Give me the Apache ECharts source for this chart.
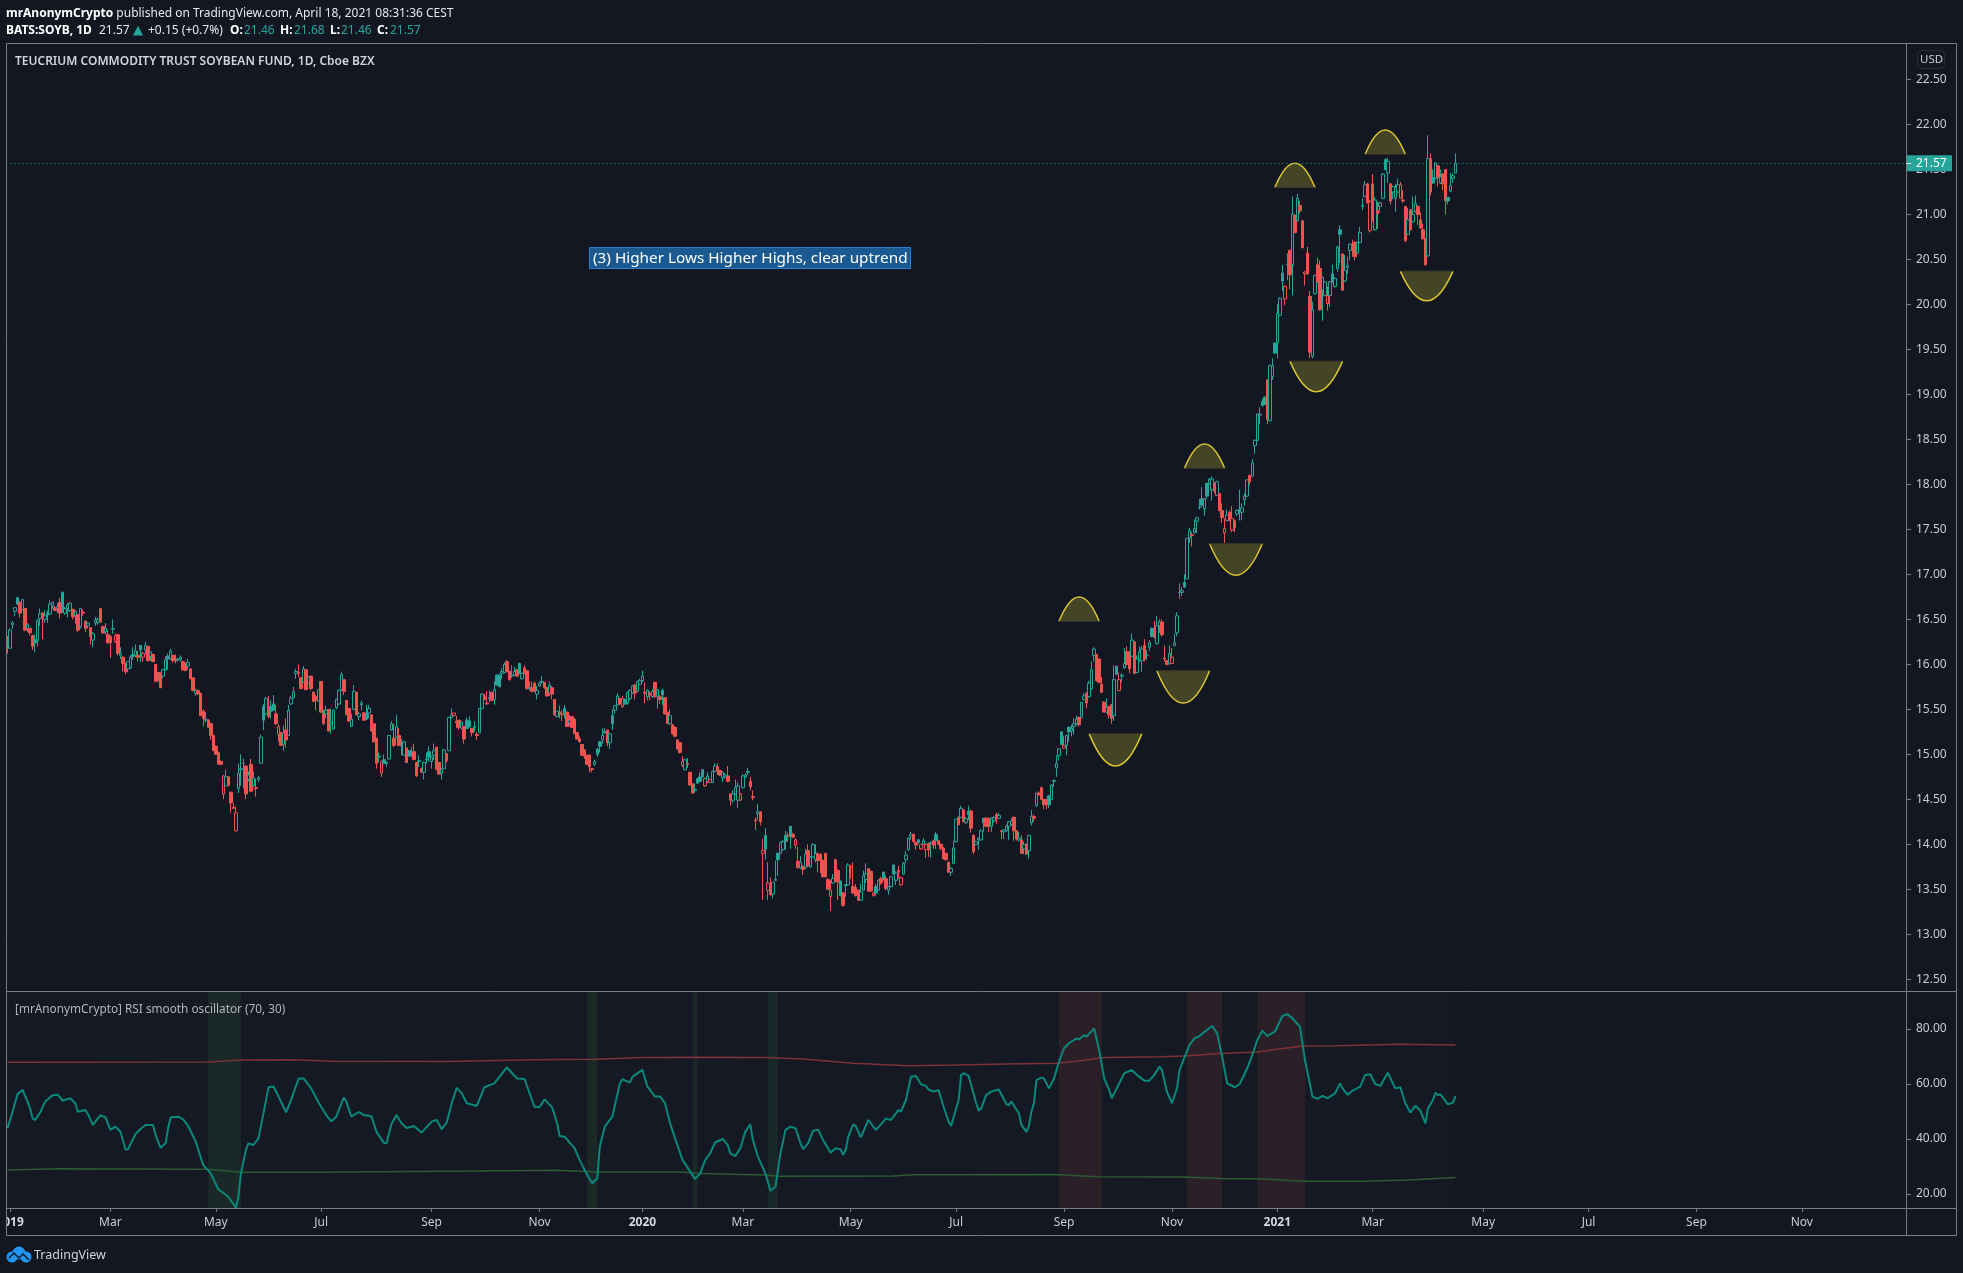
<!DOCTYPE html>
<html><head><meta charset="utf-8">
<style>html,body{margin:0;padding:0;background:#131722}#c{width:1963px;height:1273px}</style>
<script src="https://cdn.jsdelivr.net/npm/echarts@6/dist/echarts.min.js"></script>
</head><body><div id="c"></div>
<script>
// open, high, low, close (US cents), close-vs-previous-close colour flag (1 green, 0 red)
const bars=[[1631,1631,1612,1618,0],[1618,1640,1618,1638,1],[1644,1648,1639,1646,1],[1659,1663,1654,1663,1],[1674,1675,1666,1667,1],[1669,1670,1652,1657,0],[1661,1672,1660,1672,1],[1662,1662,1637,1638,0],[1640,1646,1636,1644,1],[1640,1640,1632,1635,0],
[1632,1633,1616,1620,0],[1627,1633,1613,1624,1],[1627,1650,1620,1649,1],[1651,1662,1643,1656,1],[1657,1658,1628,1652,0],[1650,1660,1646,1654,1],[1657,1660,1646,1655,1],[1656,1671,1655,1667,1],[1665,1669,1662,1669,1],[1663,1665,1659,1660,0],
[1662,1668,1657,1664,1],[1669,1674,1651,1657,0],[1680,1681,1658,1658,1],[1657,1664,1655,1662,1],[1662,1668,1652,1666,1],[1660,1669,1658,1668,1],[1661,1662,1650,1653,0],[1654,1660,1645,1659,1],[1655,1656,1636,1638,0],[1642,1662,1640,1662,1],
[1658,1661,1654,1657,0],[1648,1649,1636,1640,0],[1643,1647,1640,1646,1],[1641,1641,1622,1631,0],[1627,1636,1619,1634,1],[1646,1653,1643,1649,1],[1647,1652,1644,1650,1],[1662,1662,1647,1647,0],[1642,1643,1634,1635,0],[1636,1646,1633,1640,1],
[1633,1638,1623,1624,0],[1631,1632,1607,1624,0],[1639,1650,1634,1640,1],[1625,1634,1624,1632,0],[1633,1633,1610,1612,0],[1610,1619,1606,1612,1],[1608,1609,1592,1601,0],[1601,1602,1589,1592,0],[1595,1603,1591,1603,1],[1596,1610,1595,1608,1],
[1611,1619,1605,1609,1],[1610,1622,1608,1615,1],[1610,1615,1603,1608,0],[1621,1621,1603,1616,1],[1608,1614,1603,1612,0],[1616,1625,1611,1621,1],[1620,1620,1604,1604,0],[1609,1614,1604,1614,1],[1611,1612,1603,1603,0],[1600,1600,1581,1581,0],
[1591,1591,1580,1582,0],[1590,1591,1574,1574,0],[1587,1595,1585,1594,1],[1594,1609,1593,1605,1],[1609,1612,1594,1606,1],[1606,1617,1605,1615,1],[1610,1610,1602,1604,0],[1606,1611,1601,1604,0],[1605,1607,1603,1606,1],[1605,1610,1603,1608,1],
[1603,1604,1593,1594,0],[1601,1602,1593,1593,0],[1598,1606,1594,1602,1],[1595,1595,1584,1584,0],[1585,1585,1570,1571,0],[1568,1573,1565,1571,1],[1571,1572,1566,1567,0],[1568,1568,1543,1543,0],[1548,1550,1531,1540,0],[1538,1547,1535,1539,1],
[1538,1539,1530,1530,0],[1534,1535,1516,1521,0],[1521,1522,1504,1504,0],[1509,1510,1500,1500,0],[1502,1503,1489,1489,0],[1492,1493,1488,1489,0],[1456,1477,1450,1476,0],[1465,1483,1465,1475,1],[1475,1476,1464,1466,0],[1458,1458,1435,1446,0],
[1441,1446,1440,1440,0],[1415,1442,1414,1435,0],[1462,1490,1457,1479,1],[1483,1500,1465,1484,1],[1490,1495,1462,1490,1],[1487,1488,1450,1456,0],[1472,1481,1470,1477,1],[1489,1495,1458,1459,0],[1465,1481,1464,1474,1],[1463,1473,1453,1462,0],
[1472,1476,1469,1474,1],[1490,1522,1490,1519,1],[1553,1556,1527,1538,1],[1545,1564,1544,1562,1],[1550,1565,1540,1542,0],[1553,1560,1540,1548,1],[1556,1566,1549,1549,1],[1545,1555,1533,1534,0],[1522,1533,1514,1531,0],[1524,1525,1510,1510,0],
[1511,1532,1504,1524,1],[1527,1540,1507,1516,0],[1521,1555,1521,1549,1],[1556,1565,1555,1562,1],[1563,1575,1562,1570,1],[1590,1595,1584,1592,1],[1591,1600,1586,1590,0],[1585,1586,1573,1573,0],[1580,1598,1580,1595,1],[1594,1594,1571,1572,0],
[1579,1587,1578,1586,1],[1587,1587,1571,1573,0],[1569,1570,1558,1559,0],[1564,1566,1549,1560,0],[1559,1572,1559,1572,1],[1581,1581,1546,1547,0],[1549,1549,1533,1534,0],[1545,1554,1540,1549,1],[1550,1550,1525,1526,0],[1534,1551,1523,1536,1],
[1528,1550,1528,1549,1],[1552,1562,1550,1561,1],[1556,1572,1555,1571,1],[1572,1592,1571,1589,1],[1583,1583,1566,1570,0],[1560,1560,1544,1544,0],[1551,1551,1536,1537,0],[1531,1545,1531,1539,1],[1550,1577,1550,1570,1],[1569,1569,1544,1544,0],
[1542,1547,1538,1545,1],[1555,1560,1549,1557,1],[1546,1547,1537,1538,0],[1546,1555,1538,1539,1],[1546,1555,1540,1551,1],[1544,1544,1525,1526,0],[1534,1534,1513,1514,0],[1518,1518,1484,1490,0],[1497,1502,1491,1498,1],[1479,1493,1475,1492,0],
[1494,1500,1489,1490,1],[1491,1492,1486,1490,1],[1495,1521,1494,1521,1],[1527,1537,1526,1534,1],[1518,1534,1508,1510,0],[1519,1544,1518,1531,1],[1521,1529,1509,1510,0],[1509,1517,1499,1510,1],[1499,1515,1499,1514,1],[1507,1507,1491,1491,0],
[1504,1505,1498,1498,1],[1503,1508,1497,1499,1],[1503,1512,1494,1494,0],[1491,1491,1475,1476,0],[1492,1499,1486,1493,1],[1484,1485,1480,1480,0],[1480,1492,1472,1491,1],[1494,1502,1490,1495,1],[1503,1509,1492,1497,1],[1492,1498,1484,1497,1],
[1499,1512,1494,1504,1],[1508,1508,1483,1483,0],[1491,1491,1478,1478,0],[1479,1485,1472,1483,1],[1484,1506,1484,1505,1],[1501,1501,1491,1493,0],[1504,1541,1504,1541,1],[1541,1551,1540,1544,1],[1543,1546,1542,1546,0],[1537,1543,1529,1535,0],
[1538,1538,1527,1530,0],[1529,1537,1528,1536,1],[1531,1531,1512,1517,0],[1538,1541,1528,1529,1],[1537,1542,1530,1531,1],[1529,1529,1520,1524,0],[1530,1537,1525,1531,1],[1522,1525,1516,1521,0],[1524,1551,1524,1551,1],[1551,1568,1550,1567,1],
[1564,1567,1560,1561,0],[1557,1570,1555,1556,0],[1562,1571,1558,1563,1],[1569,1569,1559,1560,0],[1561,1581,1555,1572,1],[1588,1589,1576,1577,1],[1588,1590,1575,1575,1],[1590,1596,1584,1592,1],[1591,1602,1590,1600,1],[1603,1605,1591,1592,0],
[1592,1593,1582,1583,0],[1587,1599,1585,1588,1],[1588,1597,1587,1592,1],[1594,1595,1586,1587,0],[1601,1602,1589,1590,1],[1584,1591,1583,1590,1],[1596,1599,1589,1590,0],[1593,1593,1572,1573,0],[1573,1581,1571,1574,1],[1574,1581,1569,1570,0],
[1579,1581,1570,1570,0],[1567,1576,1561,1571,1],[1576,1581,1575,1579,1],[1580,1587,1579,1581,1],[1580,1580,1573,1574,0],[1574,1575,1564,1565,0],[1568,1581,1565,1577,1],[1574,1576,1561,1567,0],[1561,1561,1543,1544,0],[1542,1548,1541,1548,1],
[1547,1554,1540,1546,0],[1545,1549,1537,1544,0],[1551,1555,1540,1546,1],[1547,1547,1531,1531,0],[1535,1544,1531,1538,1],[1542,1542,1530,1530,0],[1539,1540,1523,1523,0],[1524,1525,1516,1517,0],[1517,1520,1513,1514,0],[1511,1511,1499,1499,0],
[1505,1505,1495,1498,0],[1499,1499,1488,1489,0],[1499,1500,1480,1486,0],[1484,1485,1480,1483,0],[1489,1494,1487,1492,1],[1506,1507,1497,1500,1],[1514,1515,1502,1509,1],[1516,1529,1512,1521,1],[1525,1529,1523,1524,1],[1527,1527,1509,1513,0],
[1513,1523,1506,1523,1],[1543,1550,1527,1534,1],[1549,1555,1545,1554,1],[1555,1568,1554,1565,1],[1562,1563,1555,1556,0],[1553,1565,1552,1562,0],[1561,1562,1555,1556,1],[1557,1569,1555,1569,1],[1562,1572,1560,1571,1],[1568,1577,1567,1576,1],
[1577,1578,1561,1568,0],[1570,1582,1569,1581,1],[1578,1584,1577,1582,1],[1582,1593,1580,1587,1],[1569,1580,1557,1568,0],[1564,1572,1560,1571,1],[1568,1570,1560,1566,0],[1564,1572,1563,1570,1],[1580,1580,1563,1564,0],[1564,1572,1551,1572,1],
[1564,1566,1556,1561,0],[1571,1573,1555,1566,1],[1563,1563,1544,1545,0],[1547,1547,1534,1534,0],[1534,1550,1533,1543,1],[1533,1533,1522,1523,0],[1530,1531,1520,1520,0],[1516,1516,1505,1506,0],[1513,1513,1501,1502,0],[1488,1498,1486,1492,0],
[1483,1495,1482,1494,1],[1490,1496,1485,1489,0],[1480,1481,1465,1466,0],[1467,1468,1456,1457,0],[1460,1468,1457,1461,1],[1473,1474,1467,1468,1],[1475,1480,1469,1470,1],[1483,1483,1475,1475,1],[1465,1474,1464,1473,0],[1470,1480,1468,1476,1],
[1469,1473,1468,1472,0],[1469,1482,1468,1481,1],[1481,1490,1480,1487,1],[1486,1490,1477,1481,0],[1482,1483,1476,1477,0],[1474,1481,1469,1480,1],[1475,1479,1473,1477,1],[1476,1487,1469,1470,0],[1456,1457,1443,1449,0],[1449,1460,1446,1456,1],
[1456,1472,1455,1463,1],[1449,1469,1440,1465,1],[1449,1457,1448,1456,0],[1463,1478,1462,1476,1],[1475,1479,1474,1477,1],[1480,1485,1477,1481,1],[1470,1475,1460,1464,0],[1453,1460,1449,1452,0],[1427,1430,1416,1426,0],[1434,1445,1427,1436,1],
[1436,1437,1421,1425,0],[1390,1406,1338,1393,0],[1410,1418,1383,1394,1],[1349,1380,1338,1357,0],[1354,1363,1343,1344,0],[1345,1358,1340,1358,1],[1361,1382,1359,1360,1],[1390,1391,1365,1383,1],[1390,1403,1390,1402,1],[1394,1405,1393,1403,1],
[1410,1415,1394,1403,1],[1410,1413,1403,1409,0],[1420,1420,1395,1409,1],[1411,1413,1407,1408,0],[1399,1407,1395,1405,0],[1381,1397,1373,1374,0],[1374,1387,1373,1380,1],[1375,1377,1366,1372,0],[1374,1395,1373,1389,1],[1393,1400,1375,1376,0],
[1375,1387,1374,1386,1],[1386,1401,1385,1400,1],[1383,1400,1380,1390,1],[1389,1391,1369,1382,0],[1389,1390,1368,1382,0],[1382,1383,1363,1364,0],[1390,1390,1363,1364,0],[1361,1362,1349,1350,0],[1342,1360,1326,1349,0],[1357,1367,1356,1362,1],
[1383,1384,1358,1359,0],[1371,1372,1338,1358,0],[1359,1360,1342,1343,1],[1346,1347,1331,1332,0],[1355,1356,1342,1354,1],[1355,1379,1354,1377,1],[1375,1377,1362,1374,0],[1353,1380,1345,1346,0],[1352,1356,1342,1343,0],[1349,1350,1337,1338,0],
[1338,1356,1337,1347,1],[1349,1371,1348,1365,1],[1361,1379,1357,1367,1],[1373,1373,1347,1348,0],[1370,1371,1348,1348,0],[1343,1347,1342,1346,0],[1353,1356,1343,1346,1],[1349,1361,1348,1360,1],[1362,1364,1355,1357,0],[1369,1370,1360,1362,1],
[1362,1365,1349,1351,0],[1349,1354,1344,1353,1],[1353,1365,1352,1364,1],[1377,1378,1366,1367,1],[1360,1370,1355,1368,1],[1371,1376,1362,1369,0],[1355,1364,1354,1363,0],[1367,1380,1366,1379,1],[1383,1393,1379,1388,1],[1394,1408,1393,1407,1],
[1409,1414,1405,1411,1],[1411,1412,1402,1403,0],[1402,1403,1394,1399,0],[1405,1406,1401,1402,1],[1395,1400,1394,1400,0],[1400,1407,1399,1404,1],[1394,1401,1385,1400,0],[1401,1402,1386,1394,0],[1401,1403,1385,1402,1],[1404,1405,1395,1399,0],
[1411,1414,1395,1404,1],[1404,1405,1400,1400,0],[1400,1401,1394,1395,0],[1396,1397,1383,1384,0],[1390,1390,1382,1383,0],[1380,1381,1368,1369,0],[1369,1375,1365,1373,1],[1379,1404,1378,1396,1],[1403,1428,1402,1428,1],[1430,1431,1421,1422,0],
[1430,1443,1429,1440,1],[1438,1439,1425,1425,0],[1424,1430,1423,1429,1],[1437,1443,1427,1433,1],[1437,1438,1413,1418,0],[1410,1411,1389,1392,0],[1400,1404,1399,1403,1],[1405,1408,1394,1407,1],[1405,1417,1404,1415,1],[1429,1429,1414,1424,1],
[1429,1430,1419,1420,0],[1429,1430,1414,1420,0],[1420,1430,1414,1429,1],[1426,1431,1424,1430,1],[1433,1435,1423,1429,0],[1429,1435,1428,1432,1],[1415,1416,1406,1414,0],[1414,1417,1406,1416,1],[1415,1422,1414,1420,1],[1420,1426,1405,1425,1],
[1422,1429,1421,1426,1],[1430,1431,1404,1415,0],[1415,1416,1404,1406,0],[1405,1414,1403,1407,1],[1405,1410,1389,1390,0],[1395,1403,1389,1400,1],[1400,1401,1389,1389,0],[1393,1410,1384,1410,1],[1424,1438,1421,1431,1],[1431,1433,1425,1429,0],
[1443,1457,1442,1457,1],[1457,1459,1454,1455,0],[1463,1464,1449,1450,0],[1450,1450,1439,1444,0],[1450,1450,1439,1444,0],[1454,1455,1440,1444,1],[1450,1467,1449,1466,1],[1470,1472,1464,1471,1],[1485,1499,1475,1490,1],[1499,1507,1493,1506,1],
[1525,1525,1511,1511,1],[1507,1520,1506,1510,0],[1510,1522,1499,1521,1],[1530,1531,1514,1525,1],[1526,1533,1520,1529,1],[1531,1540,1522,1534,1],[1534,1543,1533,1539,1],[1541,1542,1531,1533,0],[1541,1558,1540,1558,1],[1561,1568,1560,1565,1],
[1568,1569,1551,1557,0],[1564,1582,1563,1579,1],[1573,1603,1572,1594,1],[1610,1619,1603,1617,1],[1611,1611,1581,1582,0],[1606,1606,1579,1580,0],[1578,1586,1568,1569,0],[1558,1559,1547,1547,0],[1547,1562,1546,1552,1],[1553,1554,1540,1544,0],
[1555,1556,1534,1540,0],[1543,1599,1537,1583,1],[1598,1598,1588,1589,1],[1571,1591,1570,1583,0],[1587,1590,1580,1588,1],[1596,1618,1595,1601,1],[1614,1620,1599,1600,0],[1614,1615,1590,1595,0],[1609,1634,1608,1627,1],[1625,1625,1589,1590,0],
[1591,1610,1590,1606,1],[1605,1620,1603,1614,1],[1604,1620,1592,1617,1],[1621,1628,1603,1606,0],[1610,1616,1605,1610,1],[1619,1627,1615,1624,1],[1640,1641,1630,1631,1],[1640,1648,1629,1630,0],[1623,1654,1622,1643,1],[1643,1650,1635,1647,1],
[1647,1650,1631,1633,0],[1607,1621,1603,1606,0],[1604,1605,1599,1600,0],[1601,1621,1600,1612,1],[1601,1618,1600,1608,0],[1621,1634,1620,1624,1],[1635,1658,1631,1654,1],[1680,1690,1673,1680,1],[1680,1686,1676,1682,1],[1691,1700,1685,1686,1],
[1695,1740,1695,1740,1],[1741,1752,1735,1749,1],[1744,1747,1731,1743,0],[1746,1761,1746,1751,1],[1759,1764,1746,1763,1],[1774,1784,1772,1775,1],[1784,1797,1775,1777,1],[1773,1785,1765,1784,1],[1801,1802,1784,1787,1],[1801,1807,1800,1806,1],
[1794,1809,1782,1806,1],[1801,1802,1790,1793,0],[1788,1804,1787,1803,1],[1790,1790,1770,1771,0],[1771,1779,1757,1763,0],[1746,1762,1735,1751,0],[1760,1772,1759,1766,1],[1769,1771,1759,1760,0],[1749,1776,1747,1762,0],[1760,1761,1747,1752,0],
[1767,1772,1765,1771,1],[1771,1794,1760,1772,1],[1769,1779,1760,1774,1],[1783,1790,1776,1787,1],[1787,1805,1786,1805,1],[1810,1811,1799,1803,0],[1809,1828,1808,1824,1],[1843,1850,1834,1849,1],[1849,1879,1848,1878,1],[1877,1886,1867,1878,1],
[1892,1895,1886,1888,1],[1897,1898,1888,1889,1],[1916,1917,1867,1872,0],[1871,1933,1870,1932,1],[1920,1940,1916,1932,1],[1957,1958,1945,1946,1],[1958,2000,1940,1990,1],[1988,2008,1987,2007,1],[2035,2044,2015,2026,1],[2006,2021,1999,2020,0],
[2044,2057,2027,2045,1],[2060,2061,2017,2033,0],[2044,2120,2010,2100,1],[2099,2100,2079,2080,0],[2093,2123,2092,2118,1],[2110,2115,2101,2104,0],[2093,2093,2063,2063,0],[2034,2037,2021,2036,0],[2057,2064,2033,2034,0],[2009,2015,1940,1947,0],
[1942,2003,1940,1994,1],[2012,2033,2011,2032,1],[2044,2052,2024,2025,0],[2040,2049,1993,1994,0],[2016,2031,1982,2030,1],[2010,2026,2009,2025,1],[2001,2020,1993,2010,0],[2010,2026,1997,2025,1],[2034,2044,2024,2025,1],[2020,2030,2019,2029,1],
[2040,2065,2036,2064,1],[2083,2088,2046,2078,1],[2056,2057,2015,2016,0],[2026,2055,2025,2038,1],[2041,2053,2034,2043,1],[2060,2068,2049,2067,1],[2066,2072,2053,2065,0],[2069,2070,2049,2053,0],[2057,2070,2056,2069,1],[2069,2086,2068,2080,1],
[2109,2118,2105,2110,1],[2120,2137,2119,2133,1],[2134,2135,2112,2113,0],[2082,2116,2080,2114,0],[2134,2145,2092,2093,0],[2083,2119,2082,2116,1],[2104,2114,2084,2101,0],[2109,2114,2102,2113,1],[2118,2146,2117,2145,1],[2161,2162,2149,2150,1],
[2146,2163,2135,2159,1],[2134,2135,2111,2115,0],[2125,2132,2117,2131,1],[2118,2134,2103,2130,1],[2125,2140,2124,2133,1],[2118,2136,2117,2133,0],[2116,2127,2113,2115,0],[2109,2109,2069,2071,0],[2078,2107,2077,2094,1],[2105,2106,2082,2083,0],
[2092,2120,2091,2100,1],[2103,2121,2102,2112,1],[2109,2110,2088,2100,0],[2094,2102,2084,2085,0],[2083,2090,2072,2073,0],[2073,2074,2044,2044,0],[2054,2188,2053,2162,1],[2162,2168,2121,2125,0],[2141,2150,2134,2135,1],[2140,2158,2139,2157,1],
[2154,2155,2131,2141,0],[2135,2150,2134,2142,1],[2145,2146,2127,2134,0],[2150,2150,2100,2115,0],[2119,2119,2111,2115,1],[2126,2146,2125,2132,1],[2140,2146,2135,2143,1],[2146,2168,2146,2157,1]];

const rsi=[[0,43.9],[2,49.9],[4,56.3],[6,57.8],[8,53.6],[9,51.1],[10,47.5],[11,46.9],[13,49.6],[15,53.6],[18,55.9],[20,56.1],[22,53.9],[25,54.8],[27,53],[28,49.9],[31,50.5],[32,49.1],[34,45.1],[37,48.6],[39,47.9],[41,43.3],[43,44.5],[45,42.6],[47,36.2],[48,36.2],[51,41.8],[53,43.6],[55,45.1],[58,45.1],[59,41.4],[61,36.8],[63,38.4],[64,43.9],[65,47.9],[68,48.1],[70,47.1],[72,44.7],[75,39],[78,30.5],[81,27.5],[84,21.7],[88,19],[91,15],[92,19],[93,27.5],[95,36],[96,38.4],[98,37.8],[100,40.2],[102,49.3],[104,58.8],[106,59.1],[108,55.4],[111,49.7],[113,54.2],[116,62],[118,62],[121,58.4],[124,53.2],[127,48.7],[129,46.4],[131,48.1],[134,55.1],[135,53.6],[137,48.1],[140,49.8],[142,48.7],[145,48.3],[147,42.6],[150,38.6],[151,38.4],[153,45.4],[155,48.7],[157,45.7],[159,44],[162,44.7],[165,42.3],[169,46.3],[171,46.9],[173,43.6],[175,45.9],[177,53],[179,58.6],[181,56.6],[183,53],[187,52],[190,58.8],[194,60.2],[199,66],[203,62],[206,61.8],[210,51.7],[212,51.5],[214,54.4],[217,51.5],[219,45.7],[220,41.1],[222,40.8],[226,36.6],[228,32.3],[231,26.9],[233,23.9],[235,25.7],[236,37.2],[238,44.5],[241,48.1],[244,60.2],[245,61.7],[248,60.5],[249,62.6],[253,65.1],[255,59],[258,55.4],[260,55.4],[262,53],[264,45.7],[266,40.2],[269,32.3],[274,25.4],[276,27.5],[278,32.3],[280,34.8],[282,38.8],[285,40],[287,37.8],[288,34.8],[290,33.8],[292,36.6],[294,42.6],[296,45.3],[297,39.6],[299,33.6],[302,27.5],[304,21.2],[306,22.6],[308,34.8],[310,43.3],[312,44.5],[314,43.9],[316,38.4],[317,36.3],[319,38.4],[321,43],[323,43.4],[325,39.6],[328,35],[330,36.6],[332,36.2],[333,34.2],[334,36],[335,40.8],[337,45.3],[338,44.7],[340,40.6],[343,46.9],[346,43.3],[349,46.3],[350,47.5],[352,46.9],[355,50.5],[356,49.9],[358,54.2],[360,62.6],[362,62.9],[364,59.9],[366,59.3],[367,58],[369,57.2],[371,57.8],[373,51.7],[375,46.3],[376,44.7],[379,54.2],[380,63.3],[381,63.9],[383,62.9],[386,53],[387,50.3],[388,51.1],[390,56],[392,57.2],[395,58],[398,52.7],[399,52.3],[400,53.6],[403,49.3],[404,45.1],[406,42.6],[407,44.7],[408,49.9],[409,53],[410,61.4],[412,62.3],[413,62],[415,58.4],[417,62],[419,68.1],[421,73],[423,74.8],[426,76.6],[427,76.2],[429,77.8],[430,77.2],[433,80.2],[435,72.3],[437,62],[439,57.8],[440,54.8],[442,58.4],[445,63.9],[448,65.1],[450,63.3],[453,61.2],[455,61.2],[457,63.3],[459,66.3],[460,65.1],[462,57.2],[464,53],[466,58.4],[467,65],[471,74.2],[473,76.6],[475,77.4],[477,79],[480,81.1],[482,78.4],[484,69.9],[486,60.2],[489,58.8],[491,60],[494,65.7],[496,70.5],[498,76],[500,79.4],[502,77.4],[505,79],[508,84.7],[510,85.4],[512,83.9],[515,80.8],[517,68.7],[520,55.4],[522,54.6],[524,55.7],[526,54.8],[529,56.6],[531,60.2],[532,58.4],[534,56],[536,57.6],[539,59],[541,63.3],[543,63.5],[545,60],[547,59.3],[550,64.1],[553,58.4],[555,58.8],[557,53],[559,49.6],[561,52.1],[563,50.3],[565,45.7],[566,51.1],[568,54.2],[569,56.8],[570,56],[571,56.2],[574,52.6],[576,53.2],[577,55.6]];
const upperBand=[[0,67.9],[80,68],[93,68.7],[113,68.8],[130,68.3],[175,68.2],[210,68.8],[234,69],[253,69.6],[276,69.7],[302,69.6],[317,69.1],[337,67.5],[359,66.6],[378,66.9],[398,67.3],[418,67.5],[426,68.3],[437,69.6],[459,69.9],[469,70.2],[483,71.1],[498,71.6],[506,72.6],[516,73.8],[530,73.9],[554,74.4],[577,74.2]];
const lowerBand=[[0,28.7],[20,29.2],[79,29],[93,27.9],[122,27.9],[175,28.3],[219,28.6],[235,28],[268,28],[276,27.4],[302,26.9],[308,26.4],[353,26.5],[361,27],[418,27.1],[434,26.3],[469,26.2],[483,25.6],[501,25.4],[516,24.6],[540,24.6],[558,25.1],[577,26]];
const oversoldSpans=[[80,93],[231,235],[273,275],[303,307]];
const overboughtSpans=[[419,436],[470,484],[498,517]];
// drawn arcs: first bar, last bar, base price, apex price
const arcs=[[419,435,16.48,16.75],[505,521,21.30,21.57],[469,485,18.18,18.45],[541,557,21.67,21.94],[431,452,15.23,14.87],[458,479,15.93,15.57],[479,500,17.34,16.99],[511,532,19.37,19.03],[555,576,20.37,20.04]];
const priceTicks=[12.5,13,13.5,14,14.5,15,15.5,16,16.5,17,17.5,18,18.5,19,19.5,20,20.5,21,21.5,22,22.5];
const rsiTicks=[20,40,60,80];
const timeTickBars=[1,41,83,125,169,212,253,293,336,378,421,464,506,544,588,630,673,715];
const timeTickNames=['2019','Mar','May','Jul','Sep','Nov','2020','Mar','May','Jul','Sep','Nov','2021','Mar','May','Jul','Sep','Nov'];
const lastPrice=21.57;
const barSlots=757;

const FONT='"Noto Sans", sans-serif';
const BG='#131722',UP='#26a69a',DOWN='#ef5350',FRAME='#787b86',TXT='#c9ccd4';
const cats=Array.from({length:barSlots},(_,i)=>String(i));
const candles=bars.map(([o,h,l,c,up])=>{
  const col=up?UP:DOWN, fill=c>o?BG:col;
  return {value:[o/100,c/100,Math.min(l,o,c)/100,Math.max(h,o,c)/100],
    itemStyle:{color:fill,color0:fill,borderColor:col,borderColor0:col,borderColorDoji:col,borderWidth:1}};
});
const spanArea=(s,color)=>s.map(([a,b])=>[{xAxis:a,itemStyle:{color}},{xAxis:b}]);
const timeIdx=i=>timeTickBars.indexOf(i);

const chart=echarts.init(document.getElementById('c'),null,{renderer:'canvas'});
const txt=(x,y,text,opt={})=>({type:'text',z:100,x,y,silent:true,style:Object.assign({text,fontFamily:FONT,fontSize:12,fill:TXT,textVerticalAlign:'middle'},opt)});
const line=(x1,y1,x2,y2,stroke=FRAME)=>({type:'line',z:101,silent:true,shape:{x1,y1,x2,y2},style:{stroke,lineWidth:1}});
const W='#e6e7eb',HB={fontWeight:'bold',fill:'#fff'};
chart.setOption({
  animation:false,backgroundColor:BG,
  textStyle:{fontFamily:FONT},
  grid:[{left:6.25,top:43.5,width:1899.75,height:947.5,outerBoundsMode:'none'},{left:6.25,top:991,width:1899.75,height:217,outerBoundsMode:'none'}],
  xAxis:[
   {type:'category',gridIndex:0,data:cats,boundaryGap:true,axisLine:{show:false},axisTick:{show:false},axisLabel:{show:false},splitLine:{show:false}},
   {type:'category',gridIndex:1,data:cats,boundaryGap:true,
    axisLine:{show:true,lineStyle:{color:FRAME}},
    axisTick:{show:true,alignWithLabel:true,length:4,lineStyle:{color:FRAME},interval:(i)=>timeIdx(i)>=0},
    axisLabel:{show:true,interval:(i)=>timeIdx(i)>=0,margin:9,color:TXT,fontFamily:FONT,fontSize:12,hideOverlap:false,
      formatter:(v,i)=>{const n=timeTickNames[timeIdx(i)]||'';return /^\d/.test(n)?`{y|${n}}`:n;},
      rich:{y:{fontWeight:'bold',color:'#d8dae0',fontFamily:FONT,fontSize:12}}},
    splitLine:{show:false}}
  ],
  yAxis:[
   {type:'value',gridIndex:0,position:'right',min:12.37,max:22.9,scale:true,
    axisLine:{show:true,lineStyle:{color:FRAME}},
    axisTick:{show:true,length:5,lineStyle:{color:FRAME},customValues:priceTicks},
    axisLabel:{show:true,margin:10,padding:[2,0,0,0],color:TXT,fontFamily:FONT,fontSize:12,customValues:priceTicks,formatter:v=>v.toFixed(2)},
    splitLine:{show:false}},
   {type:'value',gridIndex:1,position:'right',min:14.9,max:93.8,scale:true,
    axisLine:{show:true,lineStyle:{color:FRAME}},
    axisTick:{show:true,length:5,lineStyle:{color:FRAME},customValues:rsiTicks},
    axisLabel:{show:true,margin:10,padding:[2,0,0,0],color:TXT,fontFamily:FONT,fontSize:12,customValues:rsiTicks,formatter:v=>v.toFixed(2)},
    splitLine:{show:false}}
  ],
  series:[
   {type:'candlestick',xAxisIndex:0,yAxisIndex:0,data:candles,barWidth:3,progressive:0,silent:true,z:3,
    markLine:{silent:true,symbol:'none',animation:false,
      lineStyle:{color:UP,type:[1,3],width:1},
      label:{show:true,position:'end',distance:0,formatter:lastPrice.toFixed(2),color:'#fff',backgroundColor:UP,fontFamily:FONT,fontSize:12,padding:[2,7,2,10],width:29},
      data:[{yAxis:lastPrice}]}},
   {type:'custom',xAxisIndex:0,yAxisIndex:0,silent:true,z:4,clip:true,data:arcs.map((a,i)=>[a[0],a[2]]),encode:{x:0,y:1},
    renderItem:(p,api)=>{
      const [a,b,base,apex]=arcs[p.dataIndex];
      const s=api.coord([a,base]),e=api.coord([b,base]),t=api.coord([a,apex]);
      const cpx=(s[0]+e[0])/2,cpy=2*t[1]-s[1];
      return {type:'group',children:[
        {type:'bezierCurve',shape:{x1:s[0],y1:s[1],x2:e[0],y2:e[1],cpx1:cpx,cpy1:cpy},style:{fill:'rgba(255,235,59,0.21)',stroke:'#d8c62c',lineWidth:1.5}},
        {type:'line',shape:{x1:s[0],y1:s[1],x2:e[0],y2:e[1]},style:{stroke:'rgba(60,58,40,0.9)',lineWidth:1}}
      ]};
    }},
   {type:'line',xAxisIndex:1,yAxisIndex:1,data:upperBand,symbol:'none',silent:true,z:2,lineStyle:{color:'#7c3238',width:1.5},
    markArea:{silent:true,data:[[{xAxis:0,itemStyle:{color:'rgba(255,255,255,0.012)'}},{xAxis:577}],...spanArea(oversoldSpans,'rgba(76,175,80,0.10)'),...spanArea(overboughtSpans,'rgba(239,83,80,0.105)')]}},
   {type:'line',xAxisIndex:1,yAxisIndex:1,data:lowerBand,symbol:'none',silent:true,z:2,lineStyle:{color:'#2c5a34',width:1.5}},
   {type:'line',xAxisIndex:1,yAxisIndex:1,data:rsi,symbol:'none',silent:true,z:3,smooth:false,lineStyle:{color:'#08897b',width:2}}
  ],
  graphic:[
    {type:'rect',z:99,silent:true,shape:{x:0,y:1209,width:6,height:26},style:{fill:BG}},
    {type:'rect',z:101,silent:true,shape:{x:6.5,y:43.5,width:1950,height:1192},style:{fill:'none',stroke:FRAME,lineWidth:1}},
    line(6,991.5,1957,991.5),line(6,1208.5,1957,1208.5),line(1906.5,43,1906.5,1236),
    line(1906,163.5,1911,163.5,'#ffffff'),
    txt(6,13.5,'{b|mrAnonymCrypto} published on TradingView.com, April 18, 2021 08:31:36 CEST',{fill:W,rich:{b:{fontWeight:'bold',fill:'#fff',fontFamily:FONT,fontSize:12}}}),
    txt(6,31,'BATS:SOYB, 1D',HB),txt(99,31,'21.57',{fill:W}),
    txt(133,31,'▲',{fill:UP,fontFamily:'"DejaVu Sans"',fontSize:13}),
    txt(148,31,'+0.15 (+0.7%)',{fill:W}),
    txt(230,31,'O:',HB),txt(244,31,'21.46',{fill:UP}),
    txt(280,31,'H:',HB),txt(294,31,'21.68',{fill:UP}),
    txt(330,31,'L:',HB),txt(341,31,'21.46',{fill:UP}),
    txt(377,31,'C:',HB),txt(390,31,'21.57',{fill:UP}),
    txt(15,61.5,'TEUCRIUM COMMODITY TRUST SOYBEAN FUND, 1D, Cboe BZX',{fontWeight:'600',fill:'#d1d4dc'}),
    txt(15,1010,'[mrAnonymCrypto] RSI smooth oscillator (70, 30)',{fill:'#b2b5be',fontSize:11.8}),
    {type:'rect',z:100,silent:true,shape:{x:589.5,y:247.5,width:321,height:21},style:{fill:'#1b5a90',stroke:'#2a7fd0',lineWidth:1}},
    txt(593,259,'(3) Higher Lows Higher Highs, clear uptrend',{fill:'#fff',fontSize:15.3}),
    {type:'rect',z:100,silent:true,shape:{x:1917.5,y:50.5,width:27,height:18,r:4},style:{fill:BG,stroke:'#2a2e39',lineWidth:1}},
    txt(1920,60,'USD',{fontSize:11.5}),
    {type:'circle',z:100,silent:true,shape:{cx:12,cy:1257,r:5.5},style:{fill:'#2196f3'}},
    {type:'circle',z:100,silent:true,shape:{cx:19,cy:1253,r:6.5},style:{fill:'#2196f3'}},
    {type:'circle',z:100,silent:true,shape:{cx:26,cy:1257,r:5.5},style:{fill:'#2196f3'}},
    {type:'polyline',z:101,silent:true,shape:{points:[[9,1258],[14,1253],[19,1258],[23,1254],[29,1260]]},style:{fill:'none',stroke:BG,lineWidth:1.5}},
    txt(34,1255.5,'TradingView',{fontSize:12.5,fill:'#d1d4dc'})
  ]
});
</script></body></html>
